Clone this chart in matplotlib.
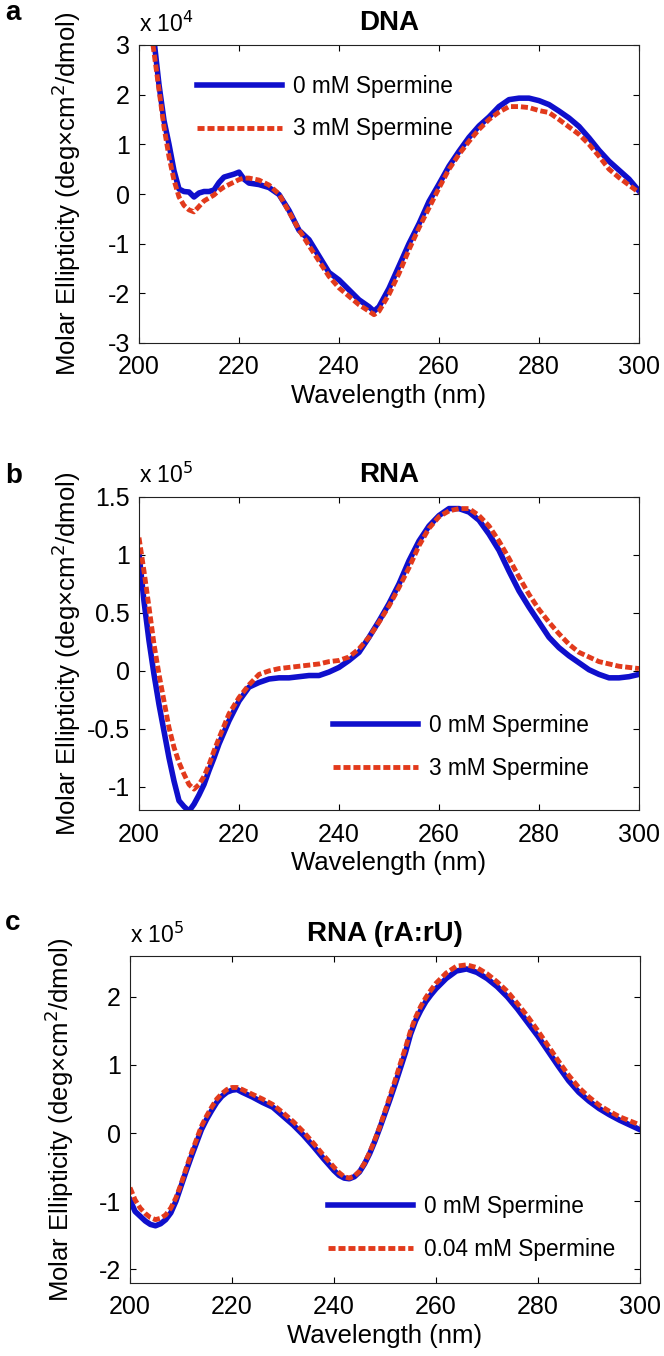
import numpy as np
import matplotlib
matplotlib.use("Agg")
import matplotlib.pyplot as plt

plt.rcParams['font.family'] = ['Liberation Sans', 'DejaVu Sans']

# ---- panel a: DNA, ellipticity in units of 1e4 ----
wl_a = np.array([202, 203, 204, 205, 206, 207, 208, 209, 210, 211, 212, 213, 214, 215,
                 216, 217, 218, 219, 220, 221, 222, 224, 226, 228, 230, 232, 234, 236,
                 238, 240, 242, 244, 246, 247, 248, 250, 252, 254, 256, 258, 260, 262,
                 264, 266, 268, 270, 272, 274, 276, 278, 280, 282, 284, 286, 288, 290,
                 292, 294, 296, 298, 300])
dna_0mM = [3.9, 3.1, 2.2, 1.48, 1.0, 0.47, 0.1, 0.05, 0.04, -0.06, 0.02, 0.05, 0.05, 0.08,
           0.23, 0.34, 0.37, 0.4, 0.44, 0.3, 0.22, 0.19, 0.13, -0.01, -0.33, -0.73, -0.92, -1.25,
           -1.58, -1.73, -1.93, -2.13, -2.27, -2.36, -2.27, -1.9, -1.45, -1.0, -0.6, -0.15, 0.2, 0.56,
           0.86, 1.14, 1.37, 1.55, 1.76, 1.9, 1.93, 1.93, 1.88, 1.8, 1.67, 1.53, 1.36, 1.13,
           0.88, 0.66, 0.48, 0.3, 0.06]
dna_3mM = [3.6, 2.85, 2.1, 1.35, 0.75, 0.28, -0.06, -0.23, -0.32, -0.36, -0.25, -0.14, -0.08, -0.02,
           0.07, 0.14, 0.19, 0.24, 0.29, 0.32, 0.32, 0.28, 0.18, 0.0, -0.36, -0.72, -1.04, -1.35,
           -1.66, -1.89, -2.06, -2.23, -2.36, -2.43, -2.36, -2.02, -1.6, -1.12, -0.68, -0.28, 0.12, 0.5,
           0.8, 1.06, 1.3, 1.5, 1.65, 1.76, 1.76, 1.74, 1.68, 1.64, 1.5, 1.35, 1.2, 1.0,
           0.76, 0.5, 0.33, 0.18, 0.03]

# ---- panel b: RNA, units of 1e5 ----
wl_b = np.concatenate([np.arange(200, 217), np.arange(218, 301, 2)])
rna_0mM = [1.01, 0.6, 0.26, -0.03, -0.29, -0.52, -0.75, -0.95, -1.12, -1.17, -1.21, -1.15, -1.07,
           -0.98, -0.86, -0.75, -0.63,
           -0.43, -0.26, -0.14, -0.1, -0.07, -0.06, -0.06, -0.05, -0.04, -0.04, -0.01, 0.03, 0.09,
           0.16, 0.29, 0.43, 0.58, 0.75, 0.95, 1.12, 1.25, 1.34, 1.4, 1.4, 1.37, 1.3, 1.18, 1.04,
           0.86, 0.69, 0.55, 0.42, 0.29, 0.2, 0.13, 0.07, 0.01, -0.03, -0.06, -0.06, -0.05, -0.03]
rna_3mM = [1.15, 0.86, 0.55, 0.23, -0.03, -0.26, -0.49, -0.66, -0.79, -0.89, -0.98, -1.02, -0.98,
           -0.91, -0.81, -0.69, -0.58,
           -0.37, -0.23, -0.12, -0.03, 0.0, 0.02, 0.03, 0.04, 0.05, 0.06, 0.08, 0.09, 0.12,
           0.19, 0.29, 0.42, 0.56, 0.72, 0.89, 1.08, 1.23, 1.33, 1.38, 1.4, 1.4, 1.34, 1.25, 1.12,
           0.97, 0.81, 0.66, 0.53, 0.42, 0.32, 0.23, 0.16, 0.12, 0.08, 0.06, 0.04, 0.03, 0.02]

# ---- panel c: RNA (rA:rU), units of 1e5 ----
wl_c = np.concatenate([np.arange(200, 223), np.arange(224, 241, 2),
                       np.arange(241, 261), np.arange(262, 301, 2)])
rau_0mM = [-0.98, -1.15, -1.22, -1.29, -1.34, -1.36, -1.33, -1.27, -1.17, -1.0, -0.78, -0.56,
           -0.35, -0.15, 0.05, 0.2, 0.33, 0.45, 0.54, 0.6, 0.63, 0.64, 0.6,
           0.53, 0.45, 0.38, 0.25, 0.12, -0.03, -0.2, -0.38, -0.55,
           -0.62, -0.66, -0.67, -0.64, -0.57, -0.45, -0.3, -0.12, 0.08, 0.29, 0.5, 0.72, 0.95,
           1.18, 1.45, 1.65, 1.8, 1.93, 2.03, 2.12,
           2.27, 2.38, 2.41, 2.36, 2.27, 2.15, 2.0, 1.82, 1.62, 1.42, 1.2, 0.98, 0.77, 0.6,
           0.47, 0.36, 0.27, 0.19, 0.12, 0.05]
rau_004mM = [-0.8, -0.98, -1.1, -1.18, -1.24, -1.27, -1.25, -1.2, -1.1, -0.95, -0.75, -0.52,
             -0.3, -0.1, 0.1, 0.25, 0.38, 0.5, 0.58, 0.64, 0.67, 0.67, 0.64,
             0.57, 0.5, 0.42, 0.3, 0.17, 0.02, -0.15, -0.33, -0.5,
             -0.58, -0.64, -0.66, -0.63, -0.56, -0.44, -0.28, -0.1, 0.1, 0.32, 0.55, 0.78, 1.02,
             1.25, 1.5, 1.7, 1.86, 1.99, 2.1, 2.2,
             2.35, 2.45, 2.47, 2.43, 2.34, 2.22, 2.08, 1.9, 1.71, 1.5, 1.28, 1.06, 0.85, 0.67,
             0.53, 0.41, 0.32, 0.24, 0.18, 0.12]

xticks = [200, 220, 240, 260, 280, 300]
BLUE = '#0F0FCC'
RED = '#E23A1C'

fig = plt.figure(figsize=(6.64, 13.56), dpi=100)
H = 1356.0
W = 664.0


def make_axes(left, right, top, bottom):
    return fig.add_axes([left / W, 1 - bottom / H, (right - left) / W, (bottom - top) / H])


# box = (left, right, top, bottom) in pixels; letter_y / exp_y = baselines in pixels
panels = [
    dict(box=(139, 639, 45, 343), x=wl_a, y0=dna_0mM, y1=dna_3mM, title='DNA', letter='a',
         ylim=(-3, 3), yticks=[-3, -2, -1, 0, 1, 2, 3], exp='4', letter_y=20, exp_y=32,
         labels=['0 mM Spermine', '3 mM Spermine'], leg=(0.116, 0.901), lab=-0.112),
    dict(box=(139, 639, 497, 810), x=wl_b, y0=rna_0mM, y1=rna_3mM, title='RNA', letter='b',
         ylim=(-1.2, 1.5), yticks=[-1, -0.5, 0, 0.5, 1, 1.5], exp='5', letter_y=483, exp_y=483,
         labels=['0 mM Spermine', '3 mM Spermine'], leg=(0.388, 0.308), lab=-0.112),
    dict(box=(130, 640, 956, 1283), x=wl_c, y0=rau_0mM, y1=rau_004mM, title='RNA (rA:rU)',
         letter='c', ylim=(-2.2, 2.6), yticks=[-2, -1, 0, 1, 2], exp='5', letter_y=930,
         exp_y=943, labels=['0 mM Spermine', '0.04 mM Spermine'], leg=(0.388, 0.268),
         lab=-0.106),
]

for p in panels:
    ax = make_axes(*p['box'])
    ax.plot(p['x'], p['y0'], color=BLUE, lw=4.0, label=p['labels'][0])
    ax.plot(p['x'], p['y1'], color=RED, lw=3.5, dashes=(1.45, 0.6), label=p['labels'][1])
    ax.set_xlim(200, 300)
    ax.set_ylim(*p['ylim'])
    ax.set_xticks(xticks)
    ax.set_yticks(p['yticks'])
    ax.set_yticklabels(['%g' % v for v in p['yticks']])
    ax.tick_params(direction='in', top=True, right=True, length=4, width=0.8,
                   labelsize=18)
    ax.tick_params(axis='x', pad=9)
    ax.tick_params(axis='y', pad=6.5)
    for s in ax.spines.values():
        s.set_linewidth(0.8)
        s.set_color('#222222')
    ax.set_xlabel('Wavelength (nm)', fontsize=18.5, labelpad=3)
    ax.set_ylabel('Molar Ellipticity (deg×cm$^2$/dmol)', fontsize=18.5)
    ax.yaxis.set_label_coords(p['lab'], 0.5)
    ax.set_title(p['title'], fontsize=20, fontweight='bold', pad=10.5)
    top = p['box'][2]
    ax.text(0.0, 1 + (top - p['exp_y']) / (p['box'][3] - top), 'x 10$^{%s}$' % p['exp'],
            transform=ax.transAxes, fontsize=16.5, ha='left', va='baseline')
    ax.legend(loc='upper left', bbox_to_anchor=p['leg'], frameon=False, fontsize=16.3,
              handlelength=3.76, handletextpad=0.49, labelspacing=0.88, borderpad=0,
              borderaxespad=0)
    fig.text(5 / W, 1 - p['letter_y'] / H, p['letter'], fontsize=20, fontweight='bold',
             ha='left', va='baseline')

fig.savefig('out.png', dpi=100)
